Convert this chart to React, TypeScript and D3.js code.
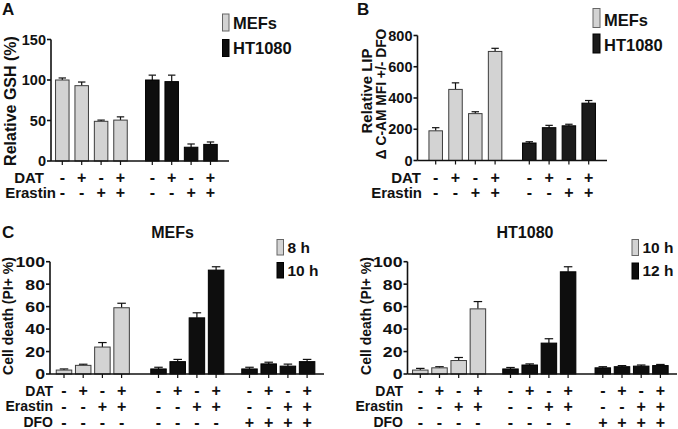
import React from 'react';
import * as d3 from 'd3';

const FONT = '"Liberation Sans", Arial, Helvetica, sans-serif';

// ---------- data ----------
const datSigns = ['-', '+', '-', '+'];
const erastinSigns = ['-', '-', '+', '+'];
const dfoOff = ['-', '-', '-', '-'];
const dfoOn = ['+', '+', '+', '+'];

const gshTicks = [0, 50, 100, 150];
const gshMEF = [100, 93, 49, 50.5];
const gshMEFErr = [2.5, 4.5, 1.5, 4];
const gshHT = [100, 98, 17, 20.5];
const gshHTErr = [6, 8, 4, 3];

const lipTicks = [0, 200, 400, 600, 800];
const lipMEF = [190, 455, 300, 698];
const lipMEFErr = [20, 42, 12, 20];
const lipHT = [112, 210, 222, 367];
const lipHTErr = [8, 15, 10, 17];

const deathTicks = [0, 20, 40, 60, 80, 100];
const mef8h = [3.5, 7.7, 24, 59];
const mef8hErr = [1, 1, 4, 4];
const mef10h = [4.5, 11, 50, 92.5];
const mef10hErr = [1.5, 2, 4.5, 3];
const mefDFO = [4.5, 9, 7, 11];
const mefDFOErr = [1.5, 1.5, 1.8, 2];

const ht10h = [3.5, 5.5, 12, 58];
const ht10hErr = [1.5, 1, 2.7, 6.5];
const ht12h = [4.5, 8, 27.5, 91];
const ht12hErr = [1.3, 1, 3.9, 4.5];
const htDFO = [5.5, 6.5, 7, 7.5];
const htDFOErr = [1, 1, 1, 1];

const LIGHT = '#d3d3d3';
const DARK = '#0e0e0e';
const OUTLINE = '#3c3c3c';

type Group = { values: number[]; errs: number[]; fill: string };
type Row = { label: string; signs: string[]; y: number; labelX: number };
type Legend = { x: number; y: number; w: number; h: number; label: string; fill: string; textY: number };

type PanelProps = {
  axisX: number;
  y0: number;
  yTop: number;
  max: number;
  ticks: number[];
  axisEnd: number;
  groups: Group[];
  firstCenter: number;
  step: number;
  groupOffsets: number[];
  barW: number;
  rows: Row[];
  tickFont: number;
  tickStretch: number;
  signFont: number;
  rowFont: number;
  legend: Legend[];
  legendFont: number;
};

function Panel(p: PanelProps) {
  const y = d3.scaleLinear().domain([0, p.max]).range([p.y0, p.yTop]);
  const x = d3.scaleLinear().domain([0, 1]).range([p.firstCenter, p.firstCenter + p.step]);
  const bars: { cx: number; v: number; e: number; fill: string; key: string }[] = [];
  p.groups.forEach((g, gi) => {
    g.values.forEach((v, i) => {
      bars.push({ cx: x(i) + p.groupOffsets[gi], v, e: g.errs[i], fill: g.fill, key: `${gi}-${i}` });
    });
  });
  const capW = p.barW * 0.55;
  return (
    <g>
      {bars.map((b) => (
        <g key={b.key}>
          <line x1={b.cx} x2={b.cx} y1={y(b.v)} y2={y(b.v + b.e)} stroke="#111" strokeWidth={1.2} />
          <line x1={b.cx - capW / 2} x2={b.cx + capW / 2} y1={y(b.v + b.e)} y2={y(b.v + b.e)} stroke="#111" strokeWidth={1.2} />
          <rect
            x={b.cx - p.barW / 2}
            y={y(b.v)}
            width={p.barW}
            height={y(0) - y(b.v)}
            fill={b.fill}
            stroke={b.fill === LIGHT ? OUTLINE : '#000'}
            strokeWidth={1}
          />
          <line x1={b.cx} x2={b.cx} y1={y(0)} y2={y(0) + 4} stroke="#111" strokeWidth={1.2} />
        </g>
      ))}
      {/* y axis */}
      <line x1={p.axisX} x2={p.axisX} y1={y(p.max)} y2={y(0)} stroke="#111" strokeWidth={1.6} />
      {p.ticks.map((t) => (
        <g key={t}>
          <line x1={p.axisX - 4} x2={p.axisX} y1={y(t)} y2={y(t)} stroke="#111" strokeWidth={1.6} />
          <text
            transform={`translate(${p.axisX - 5},${y(t)}) scale(${p.tickStretch},1)`}
            textAnchor="end"
            dominantBaseline="central"
            fontSize={p.tickFont}
            fontWeight="bold"
          >
            {t}
          </text>
        </g>
      ))}
      {/* x axis */}
      <line x1={p.axisX} x2={p.axisEnd} y1={y(0)} y2={y(0)} stroke="#111" strokeWidth={1.6} />
      {/* sign rows */}
      {p.rows.map((r) => (
        <g key={r.label}>
          <text x={r.labelX} y={r.y} textAnchor="end" dominantBaseline="central" fontSize={p.rowFont} fontWeight="bold">
            {r.label}
          </text>
          {bars.map((b, i) => (
            <text
              key={b.key}
              x={b.cx}
              y={r.y}
              textAnchor="middle"
              dominantBaseline="central"
              fontSize={p.signFont}
              fontWeight="bold"
            >
              {r.signs[i]}
            </text>
          ))}
        </g>
      ))}
      {p.legend.map((l) => (
        <g key={l.label}>
          <rect x={l.x} y={l.y} width={l.w} height={l.h} fill={l.fill} stroke={l.fill === LIGHT ? '#666' : '#000'} strokeWidth={1} />
          <text x={l.x + l.w + 4} y={l.textY} fontSize={p.legendFont} fontWeight="bold">
            {l.label}
          </text>
        </g>
      ))}
    </g>
  );
}

export default function App() {
  const rowsAB = (datX: number, erX: number) => [
    { label: 'DAT', signs: [...datSigns, ...datSigns], y: 177, labelX: datX },
    { label: 'Erastin', signs: [...erastinSigns, ...erastinSigns], y: 192.5, labelX: erX },
  ];
  const rowsC = (lx: number) => [
    { label: 'DAT', signs: [...datSigns, ...datSigns, ...datSigns], y: 390.5, labelX: lx },
    { label: 'Erastin', signs: [...erastinSigns, ...erastinSigns, ...erastinSigns], y: 406.3, labelX: lx },
    { label: 'DFO', signs: [...dfoOff, ...dfoOff, ...dfoOn], y: 422, labelX: lx },
  ];
  return (
    <svg
      width={678}
      height={429}
      viewBox="0 0 678 429"
      style={{ position: 'absolute', left: 0, top: 0, background: '#fff' }}
      fontFamily={FONT}
      fill="#111"
    >
      <rect x={0} y={0} width={678} height={429} fill="#fff" />
      {/* panel letters */}
      <text x={2} y={15} fontSize={17} fontWeight="bold">A</text>
      <text x={357} y={15} fontSize={17} fontWeight="bold">B</text>
      <text x={2} y={238} fontSize={17} fontWeight="bold">C</text>

      {/* Panel A */}
      <text transform="translate(15.5,101) rotate(-90)" textAnchor="middle" fontSize={16} fontWeight="bold">
        Relative GSH (%)
      </text>
      <Panel
        axisX={51}
        y0={161}
        yTop={39.5}
        max={150}
        ticks={gshTicks}
        axisEnd={229}
        groups={[
          { values: gshMEF, errs: gshMEFErr, fill: LIGHT },
          { values: gshHT, errs: gshHTErr, fill: DARK },
        ]}
        firstCenter={62.3}
        step={19.4}
        groupOffsets={[0, 90]}
        barW={13.5}
        rows={rowsAB(44, 56)}
        tickFont={14.5}
        tickStretch={1}
        signFont={16}
        rowFont={15}
        legend={[
          { x: 222.5, y: 14, w: 6.5, h: 17, label: 'MEFs', fill: LIGHT, textY: 28.5 },
          { x: 222.5, y: 39.5, w: 6.5, h: 17, label: 'HT1080', fill: DARK, textY: 54 },
        ]}
        legendFont={16.5}
      />

      {/* Panel B */}
      <text transform="translate(372,91) rotate(-90)" textAnchor="middle" fontSize={15} fontWeight="bold">
        Relative LIP
      </text>
      <text transform="translate(385.5,94) rotate(-90)" textAnchor="middle" fontSize={13.8} fontWeight="bold">
        Δ C-AM MFI +/- DFO
      </text>
      <Panel
        axisX={417.5}
        y0={160.5}
        yTop={35.5}
        max={800}
        ticks={lipTicks}
        axisEnd={607}
        groups={[
          { values: lipMEF, errs: lipMEFErr, fill: LIGHT },
          { values: lipHT, errs: lipHTErr, fill: '#1b1b1b' },
        ]}
        firstCenter={435.7}
        step={19.8}
        groupOffsets={[0, 93.6]}
        barW={13.5}
        rows={rowsAB(421, 422)}
        tickFont={14.5}
        tickStretch={1}
        signFont={16}
        rowFont={15}
        legend={[
          { x: 593, y: 8.5, w: 7, h: 19, label: 'MEFs', fill: LIGHT, textY: 25.5 },
          { x: 593, y: 34, w: 7, h: 19, label: 'HT1080', fill: '#1b1b1b', textY: 51 },
        ]}
        legendFont={16.5}
      />

      {/* Panel C left */}
      <text x={172.5} y={238} textAnchor="middle" fontSize={16} fontWeight="bold">MEFs</text>
      <text transform="translate(13,316) rotate(-90)" textAnchor="middle" fontSize={14} fontWeight="bold">
        Cell death (PI+ %)
      </text>
      <Panel
        axisX={50}
        y0={374}
        yTop={261.7}
        max={100}
        ticks={deathTicks}
        axisEnd={324}
        groups={[
          { values: mef8h, errs: mef8hErr, fill: LIGHT },
          { values: mef10h, errs: mef10hErr, fill: DARK },
          { values: mefDFO, errs: mefDFOErr, fill: DARK },
        ]}
        firstCenter={64}
        step={19.2}
        groupOffsets={[0, 94.5, 185.5]}
        barW={15.5}
        rows={rowsC(53)}
        tickFont={14.5}
        tickStretch={1.22}
        signFont={16}
        rowFont={14}
        legend={[
          { x: 277, y: 239.5, w: 6.5, h: 15.5, label: '8 h', fill: LIGHT, textY: 253 },
          { x: 277, y: 262.5, w: 6.5, h: 15.5, label: '10 h', fill: DARK, textY: 276 },
        ]}
        legendFont={15.5}
      />

      {/* Panel C right */}
      <text x={525} y={238} textAnchor="middle" fontSize={16} fontWeight="bold">HT1080</text>
      <text transform="translate(371,316) rotate(-90)" textAnchor="middle" fontSize={14} fontWeight="bold">
        Cell death (PI+ %)
      </text>
      <Panel
        axisX={407.5}
        y0={374}
        yTop={261.7}
        max={100}
        ticks={deathTicks}
        axisEnd={677}
        groups={[
          { values: ht10h, errs: ht10hErr, fill: LIGHT },
          { values: ht12h, errs: ht12hErr, fill: DARK },
          { values: htDFO, errs: htDFOErr, fill: DARK },
        ]}
        firstCenter={420.3}
        step={19.2}
        groupOffsets={[0, 90.2, 182.5]}
        barW={15.5}
        rows={rowsC(403)}
        tickFont={14.5}
        tickStretch={1.22}
        signFont={16}
        rowFont={14}
        legend={[
          { x: 632, y: 239.5, w: 6.5, h: 16, label: '10 h', fill: LIGHT, textY: 253 },
          { x: 632, y: 263, w: 6.5, h: 16, label: '12 h', fill: DARK, textY: 276 },
        ]}
        legendFont={15.5}
      />
    </svg>
  );
}
